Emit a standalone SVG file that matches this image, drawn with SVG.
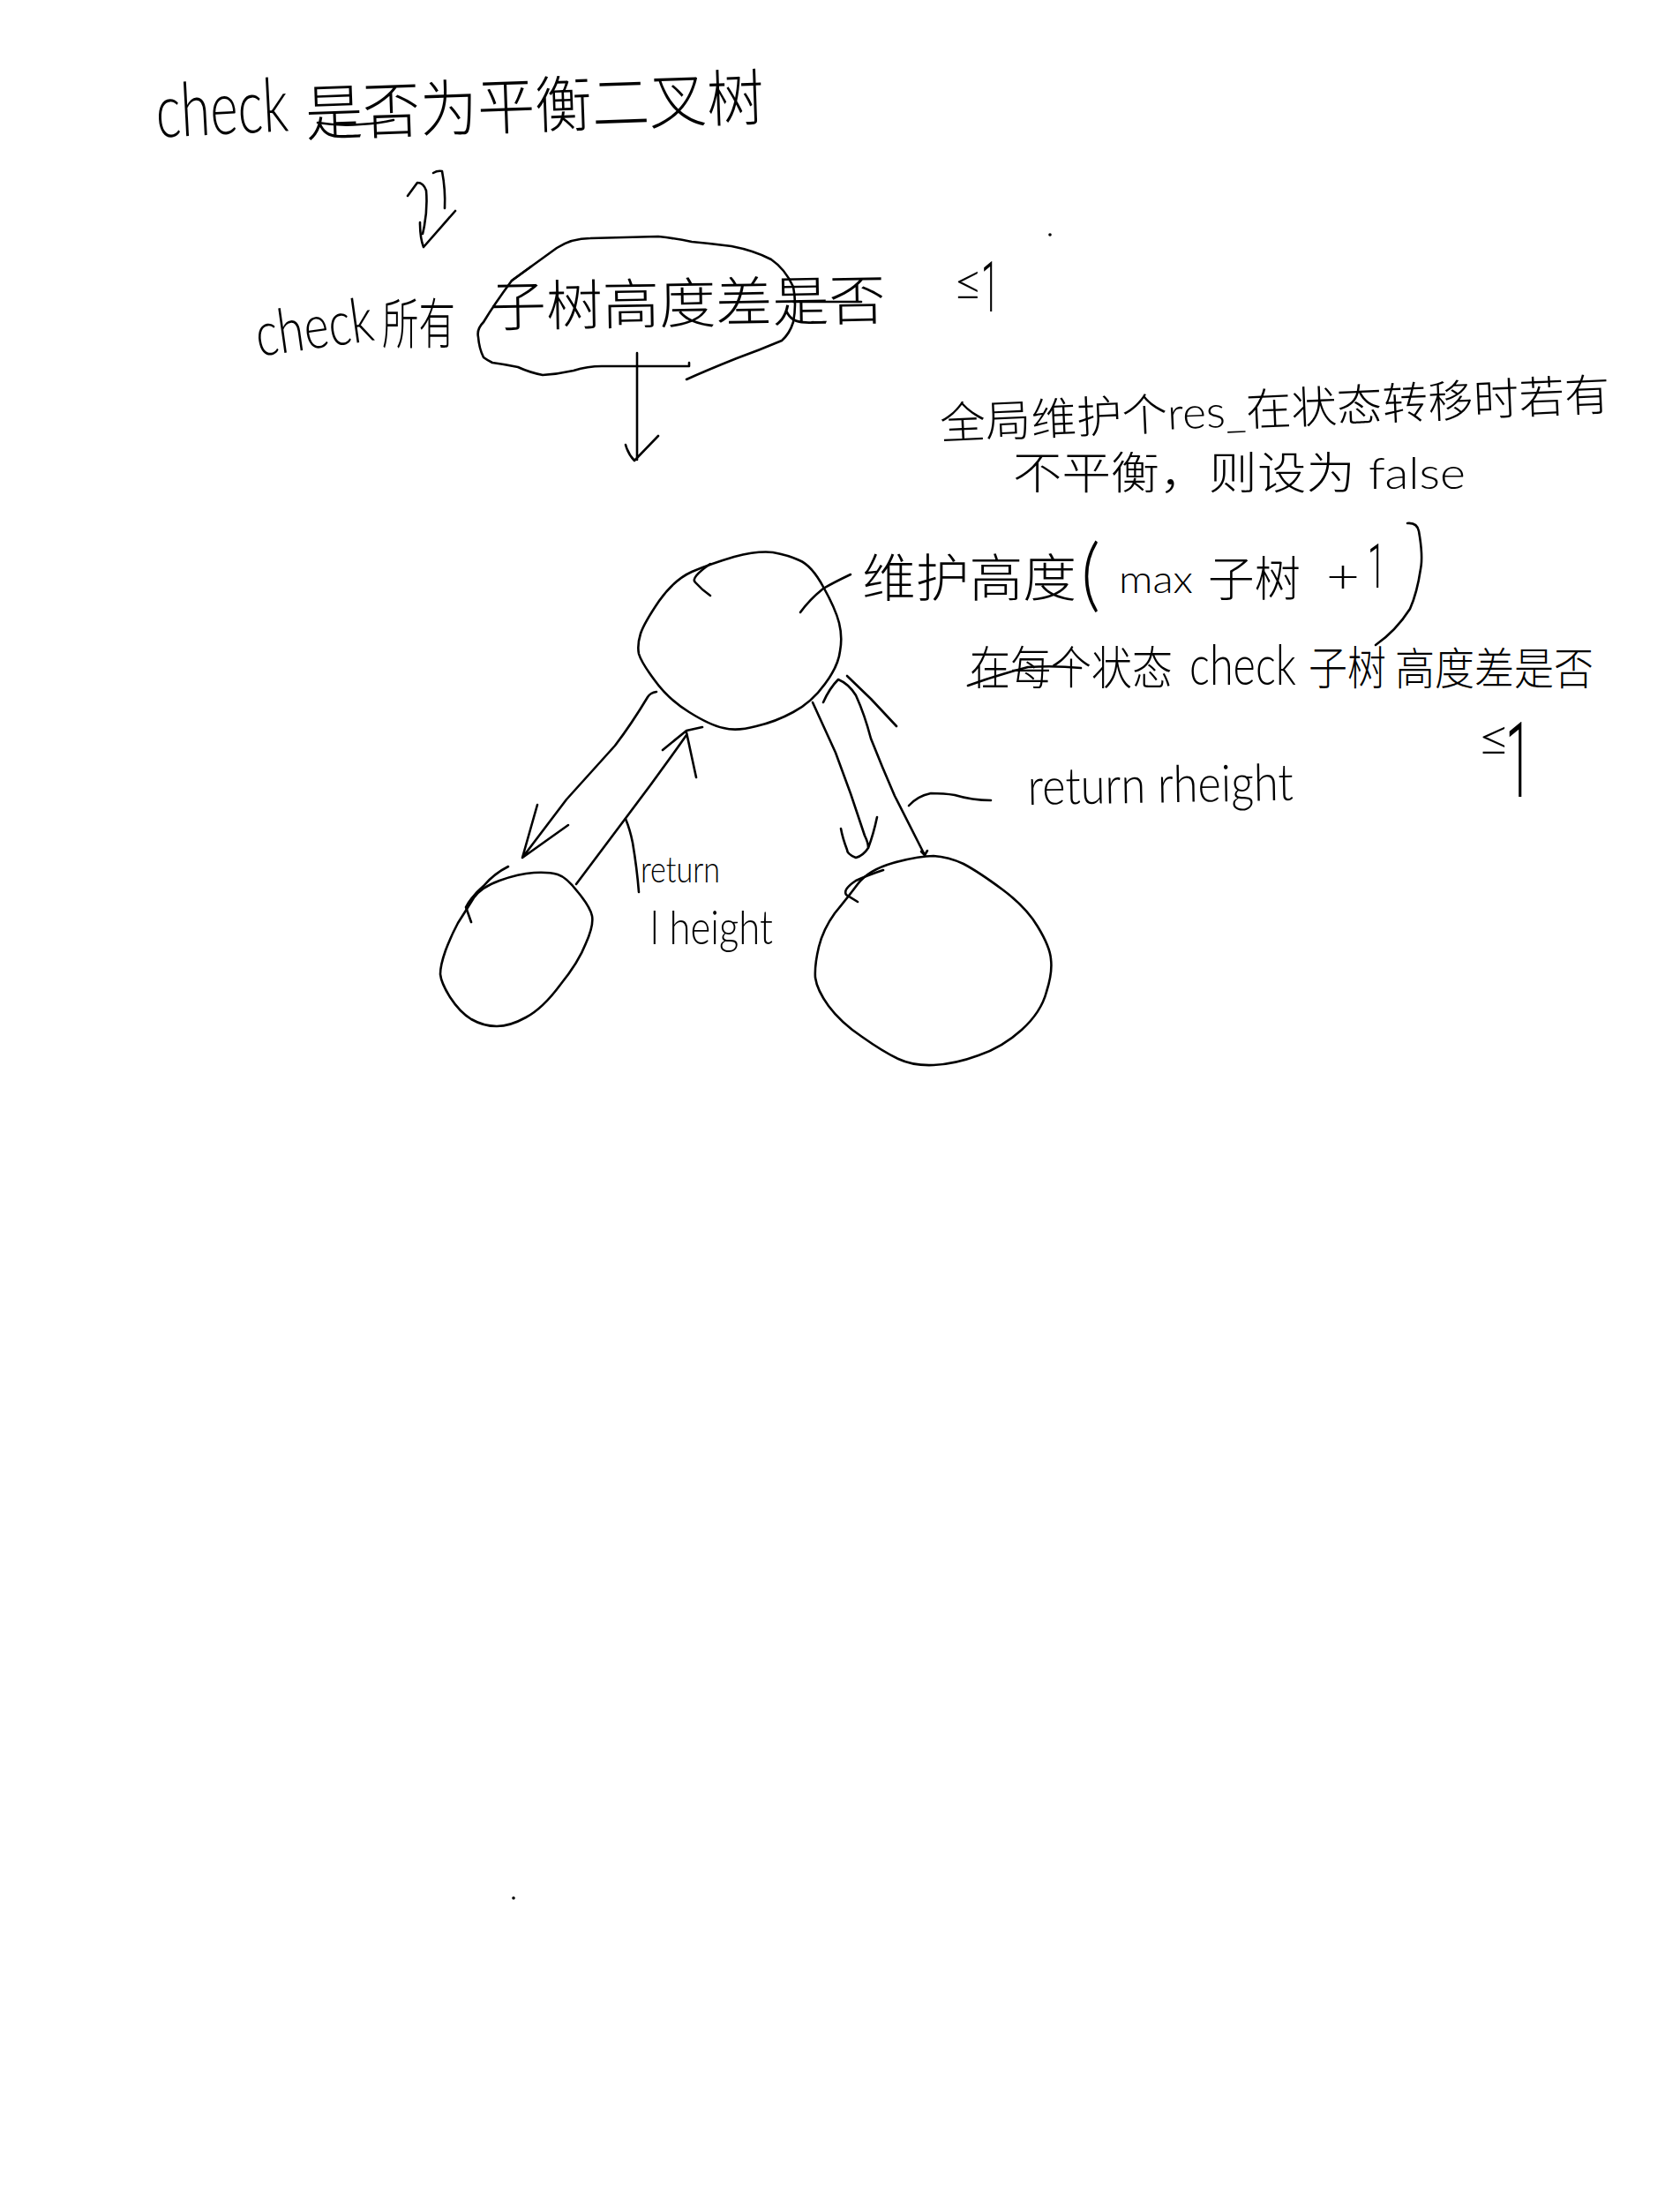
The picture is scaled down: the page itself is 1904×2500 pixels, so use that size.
<svg xmlns="http://www.w3.org/2000/svg" width="1904" height="2500" viewBox="0 0 1904 2500">
<style>
.s{fill:none;stroke:#000;stroke-width:2.6;stroke-linecap:round;stroke-linejoin:round}
text{font-family:"Lato","Noto Sans CJK SC",sans-serif;font-weight:300;fill:#000}
tspan.n{font-family:Roboto,sans-serif;font-weight:300}
</style>
<rect width="1904" height="2500" fill="#fff"/>
<g id="title">
<text x="178" y="156" font-size="85" textLength="150" lengthAdjust="spacingAndGlyphs" transform="rotate(-3 178 156)">check</text>
<text x="347" y="154" font-size="70" textLength="520" lengthAdjust="spacingAndGlyphs" transform="rotate(-2 347 154)">是否为平衡二叉树</text>
<path class="s" d="M360 139Q385 143 408 141Q430 140 446 136"/>
</g>
<g id="condition">
<text x="293" y="404" font-size="70" textLength="134" lengthAdjust="spacingAndGlyphs" transform="rotate(-8 293 404)">check</text>
<text x="433" y="390" font-size="62" textLength="83" lengthAdjust="spacingAndGlyphs">所有</text>
<text x="555" y="370" font-size="62" textLength="449" lengthAdjust="spacingAndGlyphs" transform="rotate(-1 555 370)">子树高度差是否</text>
<text y="340" font-size="60"><tspan x="1080" textLength="34" lengthAdjust="spacingAndGlyphs">≤</tspan><tspan class="n" x="1112" y="353" font-size="80" textLength="20" lengthAdjust="spacingAndGlyphs">1</tspan></text>
<path id="cloud-a" class="s" d="M580 318L602 302L631 281Q648 270 669 270L746 268Q765 270 784 274Q806 276 829 279Q855 284 874 294Q890 305 899 325Q903 345 899 365Q895 378 886 386Q860 397 835 406Q800 420 778 430"/>
<path id="cloud-b" class="s" d="M602 302L580 318Q560 345 548 365Q540 373 542 382Q543 395 548 405Q552 408 558 411Q573 413 587 416Q600 422 615 425Q632 424 650 420Q666 415 682 415L781 415L781 411"/>
<path class="s" d="M899 342L976 342"/>
</g>
<g id="note-global">
<text x="1066" y="498" font-size="50" textLength="760" lengthAdjust="spacingAndGlyphs" transform="rotate(-2.5 1066 498)">全局维护个res_在状态转移时若有</text>
<text x="1148" y="554" font-size="50" textLength="513" lengthAdjust="spacingAndGlyphs">不平衡，则设为 false</text>
</g>
<g id="note-height">
<text y="676"><tspan x="977" font-size="58" textLength="243" lengthAdjust="spacingAndGlyphs">维护高度</tspan><tspan x="1225" y="682" font-size="90" textLength="22" lengthAdjust="spacingAndGlyphs">(</tspan><tspan x="1268" y="672" font-size="44" textLength="84" lengthAdjust="spacingAndGlyphs">max</tspan><tspan x="1369" y="676" font-size="54" textLength="105" lengthAdjust="spacingAndGlyphs">子树</tspan><tspan x="1503" y="672" font-size="54" textLength="38" lengthAdjust="spacingAndGlyphs">+</tspan><tspan class="n" x="1550" y="666" font-size="70" textLength="20" lengthAdjust="spacingAndGlyphs">1</tspan></text>
<path class="s" d="M1595 593Q1606 592 1608 602Q1613 630 1610 645Q1606 672 1598 690Q1582 715 1559 731"/>
</g>
<g id="note-check">
<text y="776"><tspan x="1099" font-size="52" textLength="230" lengthAdjust="spacingAndGlyphs">在每个状态</tspan><tspan x="1348" font-size="64" textLength="121" lengthAdjust="spacingAndGlyphs">check</tspan><tspan x="1483" font-size="52" textLength="88" lengthAdjust="spacingAndGlyphs">子树</tspan><tspan x="1581" font-size="50" textLength="225" lengthAdjust="spacingAndGlyphs">高度差是否</tspan></text>
<path class="s" d="M1097 777Q1130 765 1165 756Q1195 754 1225 757"/>
<text y="856" font-size="60"><tspan x="1674" textLength="38" lengthAdjust="spacingAndGlyphs">≤</tspan><tspan class="n" x="1706" y="903" font-size="118" textLength="30" lengthAdjust="spacingAndGlyphs">1</tspan></text>
</g>
<g id="node-root"><path class="s" d="M784 648Q805 639 832 631Q859 624 876 626Q893 629 906 635Q920 641 933 665Q947 690 951 706Q955 722 952 738Q950 755 935 775Q920 796 899 807Q879 818 857 823Q835 829 820 825Q805 822 781 807Q757 792 742 771Q727 751 724 741Q722 731 726 718Q730 706 747 681Q764 657 784 648Z"/><path class="s" d="M805 639Q782 655 788 660Q795 668 805 675"/></g>
<g id="node-left"><path class="s" d="M536 1019Q544 1006 566 998Q588 990 605 989Q622 988 632 991Q642 994 655 1011Q669 1028 671 1038Q673 1049 664 1069Q656 1090 635 1116Q615 1143 596 1153Q578 1163 563 1163Q548 1163 534 1155Q521 1147 510 1130Q500 1114 499 1104Q499 1094 505 1077Q511 1061 519 1046Q528 1032 536 1019Z"/><path class="s" d="M576 982Q560 990 548 1004Q535 1015 528 1028L534 1045"/></g>
<g id="node-right"><path class="s" d="M972 1002Q984 986 1012 978Q1041 970 1058 970Q1075 971 1092 979Q1109 988 1136 1008Q1163 1028 1176 1050Q1190 1073 1191 1087Q1193 1102 1186 1124Q1180 1147 1158 1167Q1136 1187 1109 1196Q1082 1206 1058 1207Q1035 1208 1018 1200Q1001 1192 977 1175Q953 1159 939 1140Q926 1122 924 1108Q923 1094 928 1073Q933 1053 946 1035Q960 1018 972 1002Z"/><path class="s" d="M1001 986Q983 992 970 998Q955 1008 959 1014L972 1022"/></g>
<g id="labels">
<text x="1165" y="912" font-size="58" textLength="301" lengthAdjust="spacingAndGlyphs" transform="rotate(-1 1165 912)">return rheight</text>
<text x="726" y="1000" font-size="42" textLength="90" lengthAdjust="spacingAndGlyphs">return</text>
<text x="737" y="1070" font-size="54" textLength="139" lengthAdjust="spacingAndGlyphs">l height</text>
</g>
<g id="connectors">
<path class="s" d="M462 222L473 207Q480 207 483 216Q485 240 479 265"/>
<path class="s" d="M491 196Q496 193 501 194Q505 215 504 236"/>
<path class="s" d="M516 239L480 280Q476 270 476 252"/>
<path class="s" d="M722 400L722 521M746 494L719 522Q712 515 709 504"/>
<path class="s" d="M964 651Q945 660 933 667Q917 680 907 694"/>
<path class="s" d="M744 784Q737 785 734 790Q716 820 697 845Q670 875 642 906L592 972M609 912L592 972L644 935"/>
<path class="s" d="M653 1002L710 926Q745 880 778 833M751 850L778 828L796 824M778 830L789 881"/>
<path class="s" d="M921 796L947 853Q965 900 980 947Q984 955 984 961M994 926Q990 945 984 961Q978 970 970 972Q960 968 960 963Q955 950 953 939"/>
<path class="s" d="M1048 969L1014 902Q1000 870 987 837Q980 810 970 788Q962 775 950 770Q940 780 933 796"/>
<path class="s" d="M960 766L987 792L1016 823"/>
<path class="s" d="M1051 964L1048 969L1044 965"/>
<path class="s" d="M1030 913Q1040 902 1055 899Q1070 899 1082 901Q1102 907 1123 907"/>
<path class="s" d="M709 928Q714 940 717 955Q722 985 724 1011"/>
<circle cx="1190" cy="266" r="1.8"/>
<circle cx="582" cy="2151" r="1.8"/>
</g>
</svg>
